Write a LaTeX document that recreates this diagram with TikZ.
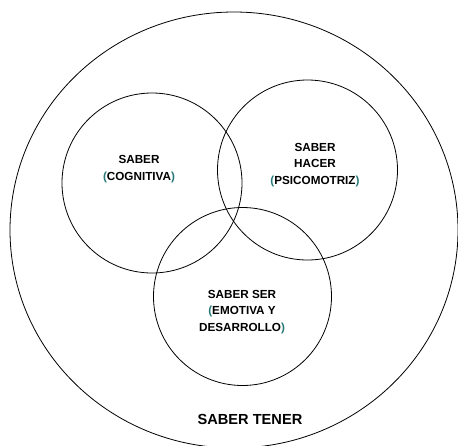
\documentclass[tikz,border=0pt]{standalone}
\usepackage{xcolor}
\usepackage{fontspec}
\setmainfont{Liberation Sans}
\usepackage{tikz}
\usetikzlibrary{positioning}

\definecolor{brk}{RGB}{40,120,120}

\begin{document}
\begin{tikzpicture}[x=1pt, y=-1pt, line width=0.8pt,
  lbl/.style={font=\fontsize{11.7}{16.3}\selectfont\bfseries, align=center, inner sep=0pt},
  big/.style={font=\fontsize{14.6}{18}\selectfont\bfseries, inner sep=0pt}]
% page frame, pixel coordinates from the top left corner
\useasboundingbox (0,0) rectangle (458,445);
\def\po{\textcolor{brk}{(}}
\def\pc{\textcolor{brk}{)}}
% outer set and the three circles
\draw (234,230) ellipse [x radius=224pt, y radius=218pt];
\draw (152,183) circle [radius=90pt];
\draw (307.5,170) circle [radius=90pt];
\draw (242.5,296.5) circle [radius=89pt];
% labels
\node[lbl] (cog) at (139,169) {SABER\\\po COGNITIVA\pc};
\node[lbl] (hac) at (315,165) {SABER\\HACER\\\po PSICOMOTRIZ\pc};
\node[lbl] (ser) at (242,312) {SABER SER\\\po EMOTIVA Y\\DESARROLLO\pc};
\node[big] (ten) at (250,419) {SABER TENER};
\end{tikzpicture}
\end{document}
